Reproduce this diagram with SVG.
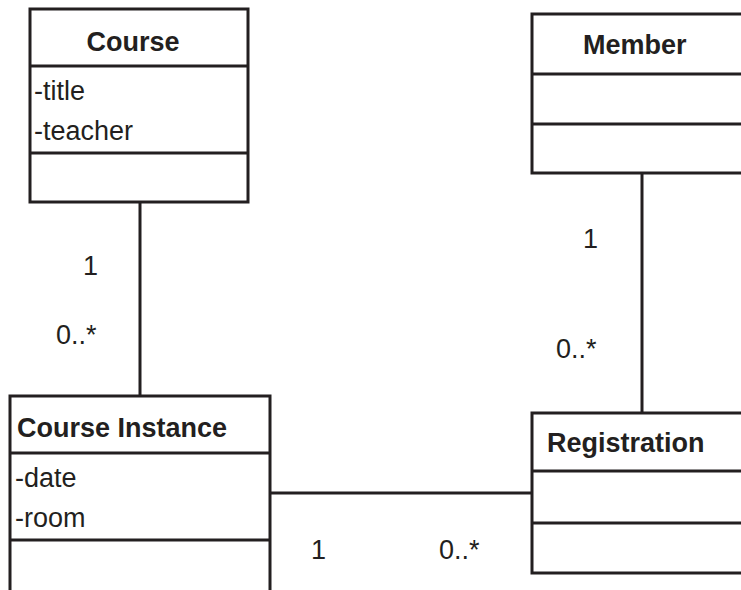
<svg xmlns="http://www.w3.org/2000/svg" width="741" height="590" viewBox="0 0 741 590">
<style>
.box{fill:#fff;stroke:#231f20;stroke-width:3}
.div{stroke:#231f20;stroke-width:3}
.t{font-family:"Liberation Sans",Arial,sans-serif;font-weight:bold;font-size:27px;fill:#231f20}
.a{font-family:"Liberation Sans",Arial,sans-serif;font-size:27px;fill:#231f20}
.c{stroke:#231f20;stroke-width:3;fill:none}
</style>
<rect width="741" height="590" fill="#fff"/>
<g id="connectors">
<line class="c" x1="140" y1="202" x2="140" y2="396"/>
<line class="c" x1="642" y1="173" x2="642" y2="413"/>
<line class="c" x1="270" y1="493" x2="532" y2="493"/>
<text class="a" x="83" y="275">1</text>
<text class="a" x="56" y="344">0..*</text>
<text class="a" x="583" y="248">1</text>
<text class="a" x="556" y="358">0..*</text>
<text class="a" x="311" y="559">1</text>
<text class="a" x="439" y="559">0..*</text>
</g>
<g id="course">
<rect class="box" x="30" y="9" width="218" height="193"/>
<line class="div" x1="30" y1="66" x2="248" y2="66"/>
<line class="div" x1="30" y1="153" x2="248" y2="153"/>
<text class="t" x="133" y="51" text-anchor="middle">Course</text>
<text class="a" x="34" y="100">-title</text>
<text class="a" x="34" y="140">-teacher</text>
</g>
<g id="member">
<rect class="box" x="532" y="14" width="220" height="159"/>
<line class="div" x1="532" y1="74" x2="741" y2="74"/>
<line class="div" x1="532" y1="124" x2="741" y2="124"/>
<text class="t" x="583" y="54">Member</text>
</g>
<g id="course-instance">
<rect class="box" x="10" y="396" width="260" height="210"/>
<line class="div" x1="10" y1="453" x2="270" y2="453"/>
<line class="div" x1="10" y1="540" x2="270" y2="540"/>
<text class="t" x="17" y="437">Course Instance</text>
<text class="a" x="15" y="487">-date</text>
<text class="a" x="15" y="527">-room</text>
</g>
<g id="registration">
<rect class="box" x="532" y="413" width="220" height="160"/>
<line class="div" x1="532" y1="471" x2="741" y2="471"/>
<line class="div" x1="532" y1="523" x2="741" y2="523"/>
<text class="t" x="547" y="452">Registration</text>
</g>
</svg>
